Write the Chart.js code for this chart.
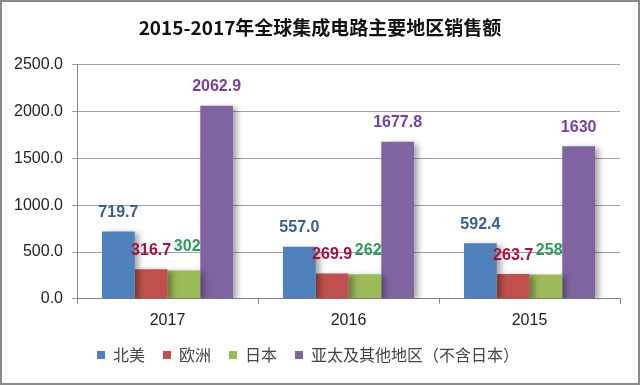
<!DOCTYPE html>
<html>
<head>
<meta charset="utf-8">
<script src="https://cdn.jsdelivr.net/npm/chart.js@4.4.0/dist/chart.umd.min.js"></script>
<style>
html,body{margin:0;padding:0;background:#fff;}
#wrap{width:640px;height:385px;position:relative;}
canvas{display:block;}
</style>
</head>
<body>
<div id="wrap"><canvas id="c" width="640" height="385"></canvas></div>
<script>
const titleText = '2015-2017年全球集成电路主要地区销售额';
const categories = ['2017', '2016', '2015'];
const seriesNames = ['北美', '欧洲', '日本', '亚太及其他地区（不含日本）'];
const northAmerica = [719.7, 557.0, 592.4];
const europe = [316.7, 269.9, 263.7];
const japan = [302.6, 262.6, 258.6];
const asiaPacific = [2062.9, 1677.8, 1630];
const valueLabels = [
  ['719.7', '557.0', '592.4'],
  ['316.7', '269.9', '263.7'],
  ['302.6', '262.6', '258.6'],
  ['2062.9', '1677.8', '1630']
];
const yTicks = [0, 500, 1000, 1500, 2000, 2500];

const barColors = ['#4F81BD', '#C0504D', '#9BBB59', '#8064A2'];
const labelColors = ['#376092', '#A8123A', '#2E9B5E', '#7A3EA0'];

const FONT = '"Liberation Sans", "Noto Sans CJK SC", sans-serif';
const CJK = '"Noto Sans CJK SC", "Liberation Sans", sans-serif';

function drawLabels(chart, which) {
  const ctx = chart.ctx;
  ctx.save();
  ctx.font = 'bold 16px ' + FONT;
  ctx.textAlign = 'center';
  ctx.textBaseline = 'middle';
  which.forEach(di => {
    const meta = chart.getDatasetMeta(di);
    meta.data.forEach((bar, i) => {
      let dx = 0, dy = -19;
      if (di === 2) { dx = 10; dy = -24; }
      ctx.fillStyle = labelColors[di];
      ctx.fillText(valueLabels[di][i], bar.x + dx, bar.y + dy);
    });
  });
  ctx.restore();
}

const labelPlugin = {
  id: 'labelPlugin',
  beforeDatasetsDraw(chart) { drawLabels(chart, [2]); },
  afterDatasetsDraw(chart) { drawLabels(chart, [0, 1, 3]); },
  beforeDatasetDraw(chart) {
    const ctx = chart.ctx;
    ctx.save();
    ctx.shadowColor = 'rgba(0,0,0,0.35)';
    ctx.shadowBlur = 6;
    ctx.shadowOffsetX = 4;
    ctx.shadowOffsetY = 2;
  },
  afterDatasetDraw(chart) { chart.ctx.restore(); },
  afterDraw(chart) {
    const ctx = chart.ctx;
    ctx.save();
    ctx.strokeStyle = '#8a8a8a';
    ctx.lineWidth = 2;
    ctx.strokeRect(1, 1, 638, 383);
    ctx.restore();
  }
};

const datasets = [northAmerica, europe, japan, asiaPacific].map((d, i) => ({
  label: seriesNames[i],
  data: d,
  backgroundColor: barColors[i],
  borderWidth: 0,
  barPercentage: 1.0,
  categoryPercentage: 0.724
}));

new Chart(document.getElementById('c'), {
  type: 'bar',
  data: { labels: categories, datasets },
  options: {
    responsive: false,
    animation: false,
    devicePixelRatio: 1,
    layout: { padding: { left: 0, right: 0, top: 0, bottom: 12 } },
    plugins: {
      title: {
        display: true,
        text: titleText,
        color: '#111',
        font: { family: CJK, size: 19, weight: 'bold' },
        padding: { top: 16, bottom: 26 }
      },
      legend: {
        position: 'bottom',
        labels: {
          color: '#444',
          font: { family: CJK, size: 16 },
          boxWidth: 8,
          boxHeight: 8,
          padding: 10,
          generateLabels(chart) {
            const items = Chart.defaults.plugins.legend.labels.generateLabels(chart);
            return items.map((l, i) => Object.assign(l, {
              text: l.text + (i === items.length - 1 ? '\u2002\u2002\u2002' : '\u2002')
            }));
          }
        }
      },
      tooltip: { enabled: false }
    },
    scales: {
      x: {
        grid: { display: true, offset: true, drawOnChartArea: false, drawTicks: true, tickLength: 5, color: '#888' },
        border: { color: '#888' },
        ticks: { color: '#222', font: { family: FONT, size: 16 }, padding: 7 }
      },
      y: {
        min: 0, max: 2500,
        afterFit(scale) { scale.width = 77; },
        afterBuildTicks(scale) { scale.ticks = yTicks.map(v => ({ value: v })); },
        grid: { color: '#a0a0a0', tickLength: 5 },
        border: { color: '#888' },
        ticks: {
          color: '#222',
          font: { family: FONT, size: 16 },
          padding: 9,
          callback: v => Number(v).toFixed(1)
        }
      },
      y2: {
        position: 'right',
        display: true,
        min: 0, max: 2500,
        grid: { display: false, drawTicks: false },
        border: { display: false },
        ticks: { display: false },
        afterFit(scale) { scale.width = 20; }
      }
    }
  },
  plugins: [labelPlugin]
});
</script>
</body>
</html>
